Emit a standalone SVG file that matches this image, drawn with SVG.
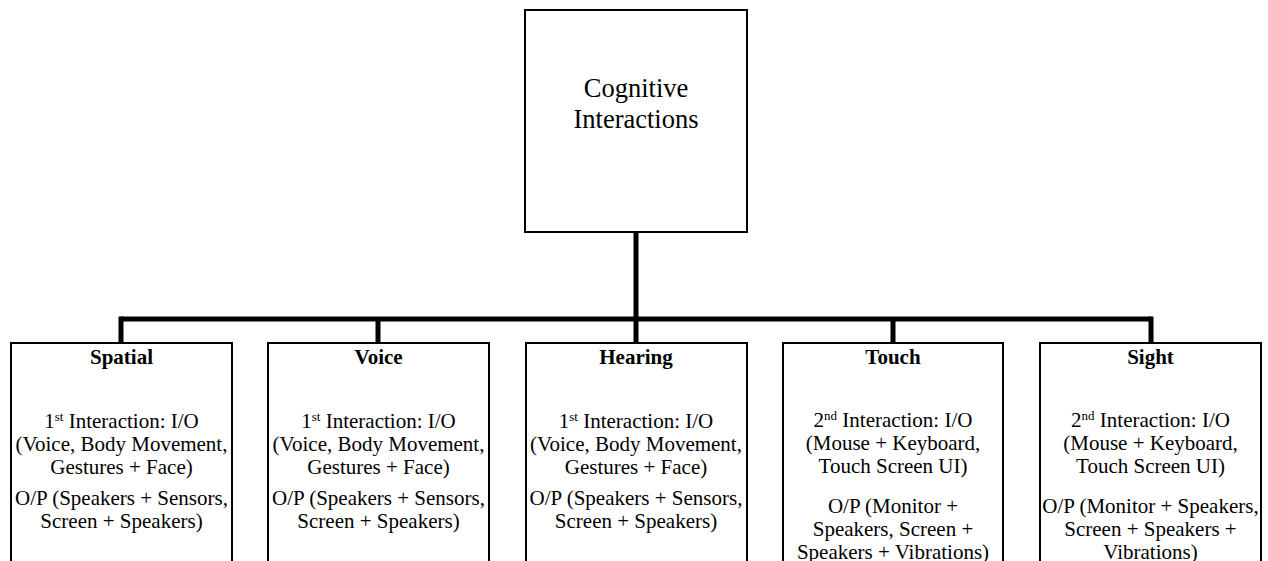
<svg xmlns="http://www.w3.org/2000/svg" width="1268" height="561" viewBox="0 0 1268 561">
<style>
.box{fill:#fff;stroke:#000;stroke-width:2}
.conn{fill:none;stroke:#000;stroke-width:5}
.tx text{fill:#000;text-anchor:middle}
.t{font-size:21px}
.h{font-size:21px;font-weight:bold}
.root{font-size:26.5px}
.sup{font-size:13px}
</style>
<rect width="1268" height="561" fill="#fff"/>
<g id="connectors">
<path class="conn" d="M636,232 V319"/>
<path class="conn" d="M121,319 H1151"/>
<path class="conn" d="M121,316.5 V343 M378,319 V343 M636,319 V343 M893,319 V343 M1151,316.5 V343"/>
</g>
<g class="tx" font-family="Liberation Serif, Tinos, DejaVu Serif, serif">
<g id="root">
<rect class="box" x="525" y="10" width="222" height="222"/>
<text class="root" x="636" y="97">Cognitive</text>
<text class="root" x="636" y="128">Interactions</text>
</g>
<g id="spatial">
<rect class="box" x="11" y="343" width="221" height="240"/>
<text class="h" x="121.5" y="364">Spatial</text>
<text class="t" x="121.5" y="428">1<tspan class="sup" dy="-7">st</tspan><tspan dy="7"> Interaction: I/O</tspan></text>
<text class="t" x="121.5" y="451">(Voice, Body Movement,</text>
<text class="t" x="121.5" y="474">Gestures + Face)</text>
<text class="t" x="121.5" y="505">O/P (Speakers + Sensors,</text>
<text class="t" x="121.5" y="528">Screen + Speakers)</text>
</g>
<g id="voice">
<rect class="box" x="268" y="343" width="221" height="240"/>
<text class="h" x="378.5" y="364">Voice</text>
<text class="t" x="378.5" y="428">1<tspan class="sup" dy="-7">st</tspan><tspan dy="7"> Interaction: I/O</tspan></text>
<text class="t" x="378.5" y="451">(Voice, Body Movement,</text>
<text class="t" x="378.5" y="474">Gestures + Face)</text>
<text class="t" x="378.5" y="505">O/P (Speakers + Sensors,</text>
<text class="t" x="378.5" y="528">Screen + Speakers)</text>
</g>
<g id="hearing">
<rect class="box" x="526" y="343" width="221" height="240"/>
<text class="h" x="636" y="364">Hearing</text>
<text class="t" x="636" y="428">1<tspan class="sup" dy="-7">st</tspan><tspan dy="7"> Interaction: I/O</tspan></text>
<text class="t" x="636" y="451">(Voice, Body Movement,</text>
<text class="t" x="636" y="474">Gestures + Face)</text>
<text class="t" x="636" y="505">O/P (Speakers + Sensors,</text>
<text class="t" x="636" y="528">Screen + Speakers)</text>
</g>
<g id="touch">
<rect class="box" x="783" y="343" width="220" height="240"/>
<text class="h" x="893" y="364">Touch</text>
<text class="t" x="893" y="427">2<tspan class="sup" dy="-7">nd</tspan><tspan dy="7"> Interaction: I/O</tspan></text>
<text class="t" x="893" y="450">(Mouse + Keyboard,</text>
<text class="t" x="893" y="473">Touch Screen UI)</text>
<text class="t" x="893" y="513">O/P (Monitor +</text>
<text class="t" x="893" y="536">Speakers, Screen +</text>
<text class="t" x="893" y="559">Speakers + Vibrations)</text>
</g>
<g id="sight">
<rect class="box" x="1040" y="343" width="221" height="240"/>
<text class="h" x="1150.5" y="364">Sight</text>
<text class="t" x="1150.5" y="427">2<tspan class="sup" dy="-7">nd</tspan><tspan dy="7"> Interaction: I/O</tspan></text>
<text class="t" x="1150.5" y="450">(Mouse + Keyboard,</text>
<text class="t" x="1150.5" y="473">Touch Screen UI)</text>
<text class="t" x="1150.5" y="513">O/P (Monitor + Speakers,</text>
<text class="t" x="1150.5" y="536">Screen + Speakers +</text>
<text class="t" x="1150.5" y="559">Vibrations)</text>
</g>
</g>
</svg>
